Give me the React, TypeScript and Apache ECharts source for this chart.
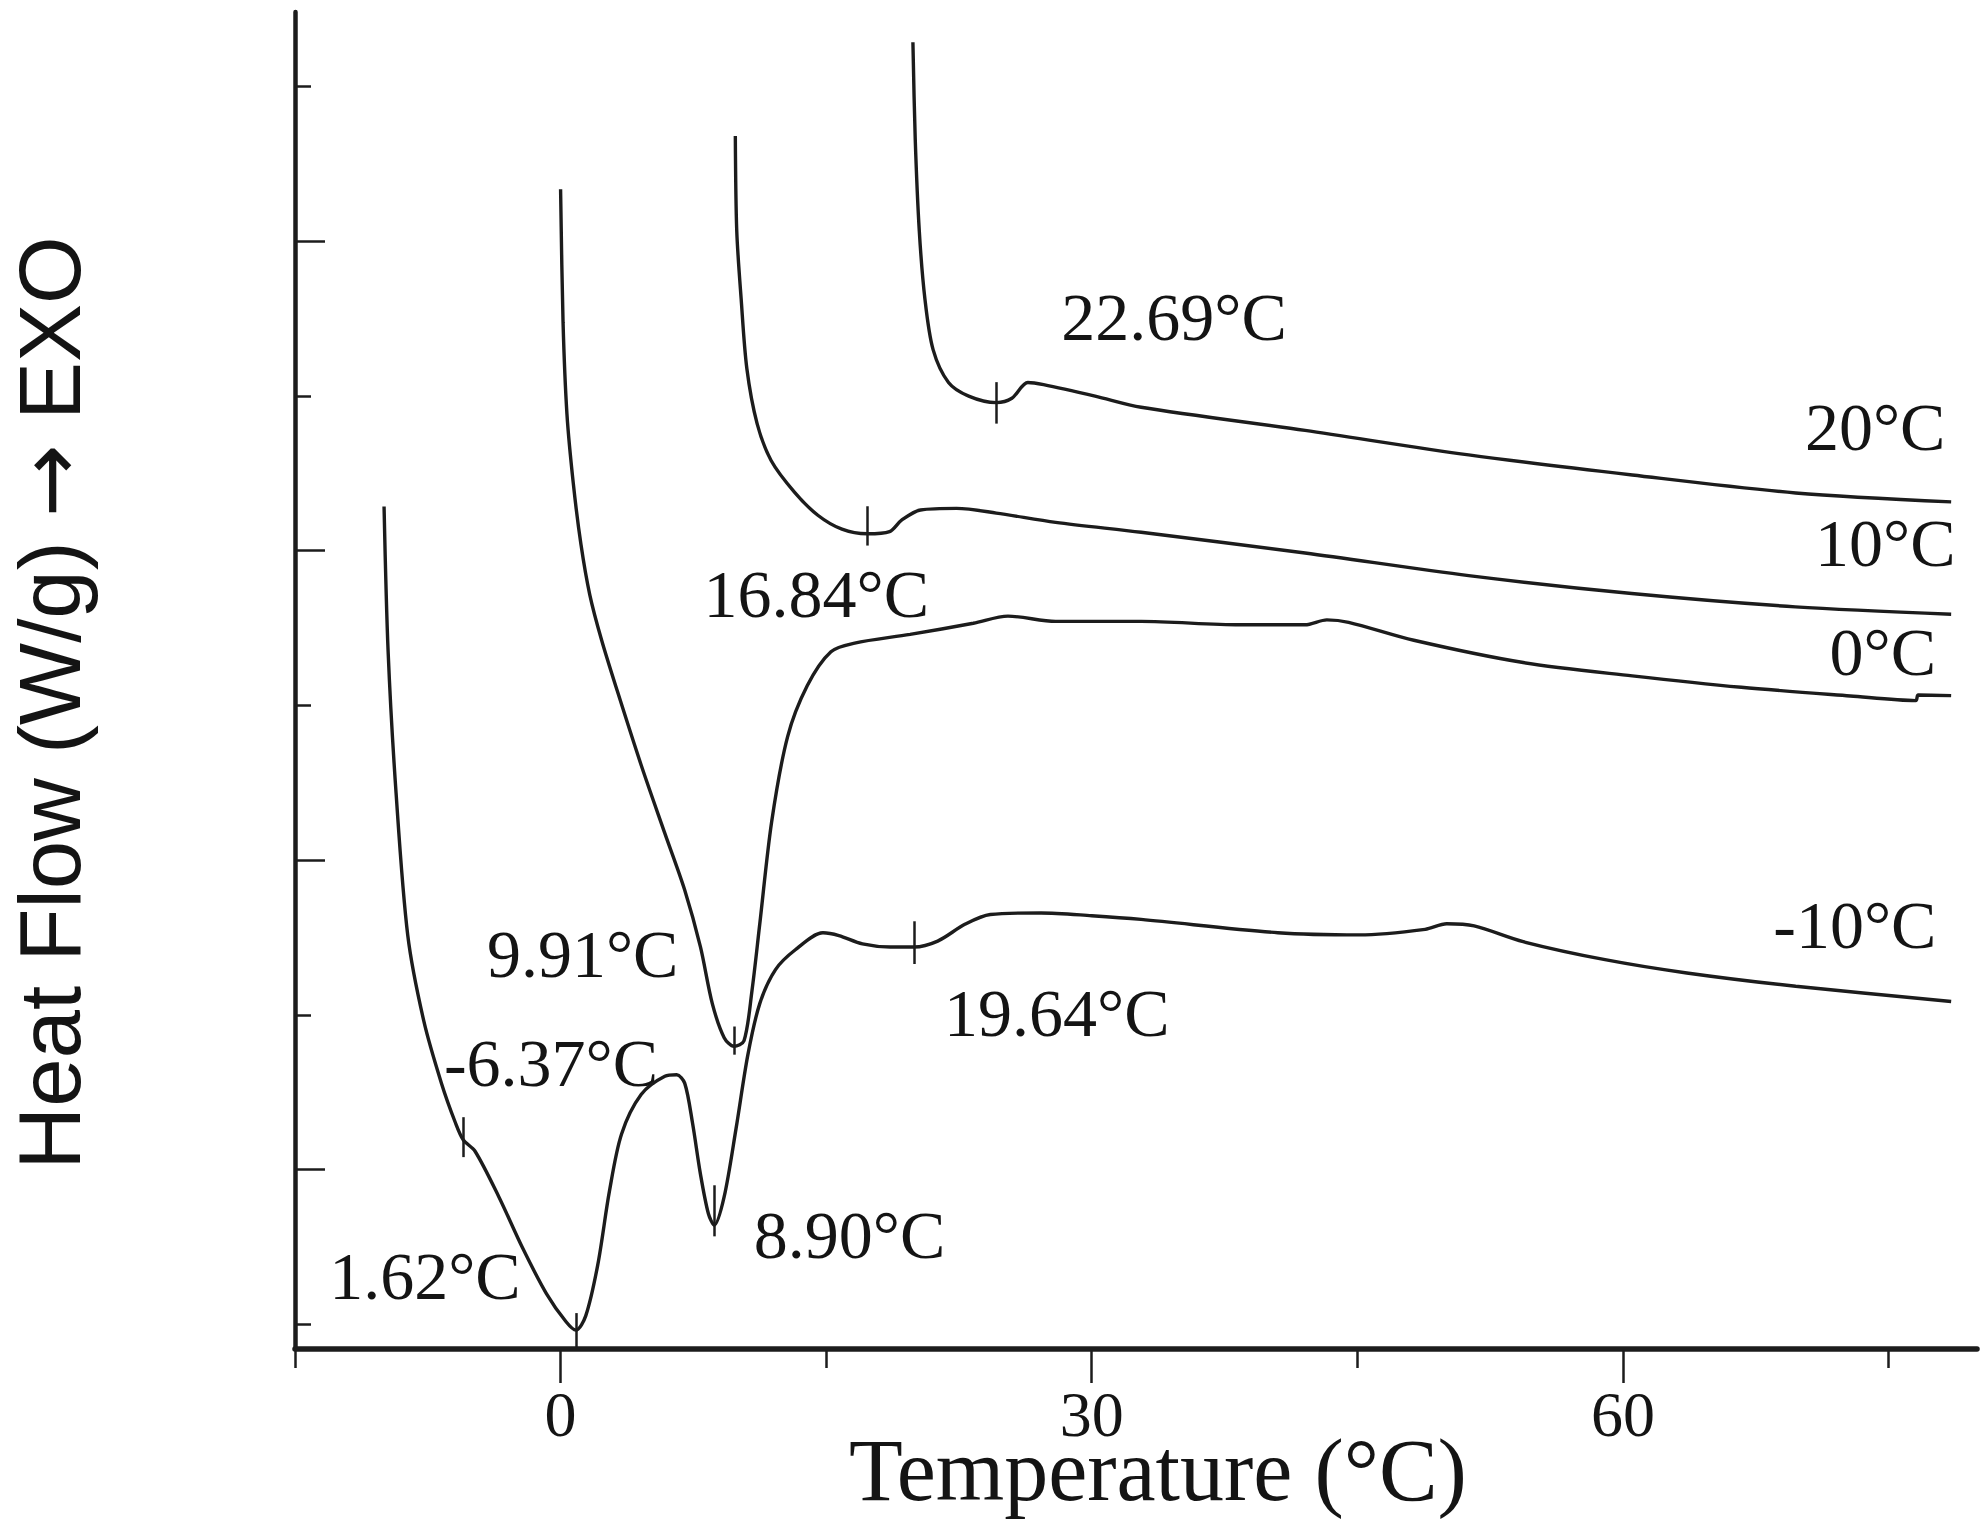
import React, { useEffect, useRef } from "react";
import * as echarts from "echarts";

const X_MIN = -15;
const X_MAX = 80;
const Y_MIN = 0.42;
const Y_MAX = 4.74;
const xTicksMajor = [0, 30, 60];
const xTicksMinor = [-15, 15, 45, 75];
const yTicksMajor = [1, 2, 3, 4];
const yTicksMinor = [0.5, 1.5, 2.5, 3.5, 4.5];

const curveMinus10: [number, number][] = [
  [-9.97, 3.142], [-9.74, 2.673], [-9.29, 2.215], [-8.63, 1.756], [-7.73, 1.481],
  [-6.73, 1.279], [-5.94, 1.151], [-5.5, 1.096], [-4.83, 1.059], [-3.49, 0.912],
  [-2.15, 0.747], [-0.81, 0.6], [0.31, 0.508], [0.87, 0.481], [1.42, 0.527],
  [2.1, 0.692], [2.76, 0.93], [3.44, 1.114], [4.55, 1.242], [5.89, 1.301],
  [6.56, 1.306], [7.01, 1.279], [7.45, 1.151], [7.9, 0.985], [8.35, 0.857],
  [8.68, 0.82], [9.24, 0.912], [9.91, 1.132], [10.58, 1.371], [11.25, 1.536],
  [12.14, 1.646], [13.26, 1.71], [14.82, 1.765], [15.72, 1.756], [17.05, 1.729],
  [18.62, 1.719], [19.96, 1.719], [21.3, 1.738], [22.86, 1.793], [24.27, 1.824],
  [27.14, 1.829], [30.0, 1.82], [32.79, 1.808], [40.51, 1.765], [45.11, 1.758],
  [48.83, 1.776], [50.05, 1.794], [51.6, 1.787], [54.37, 1.736], [58.99, 1.678],
  [63.61, 1.635], [69.76, 1.592], [78.54, 1.543],
];

const curve0: [number, number][] = [
  [0.0, 4.167], [0.14, 3.737], [0.36, 3.441], [0.72, 3.216], [1.15, 3.02],
  [1.65, 2.857], [2.32, 2.71], [3.21, 2.545], [4.55, 2.307], [5.89, 2.086],
  [7.01, 1.903], [7.9, 1.719], [8.57, 1.536], [9.24, 1.426], [9.8, 1.398],
  [10.36, 1.416], [10.8, 1.573], [11.25, 1.793], [11.92, 2.123], [12.82, 2.398],
  [13.93, 2.563], [15.27, 2.673], [16.61, 2.701], [19.74, 2.729], [23.31, 2.765],
  [25.27, 2.788], [27.96, 2.771], [32.79, 2.771], [38.35, 2.76], [42.05, 2.76],
  [43.28, 2.776], [44.51, 2.768], [48.19, 2.71], [54.37, 2.638], [60.53, 2.595],
  [66.69, 2.558], [72.84, 2.53], [76.54, 2.515], [76.68, 2.533], [78.54, 2.531],
];

const curve10: [number, number][] = [
  [9.87, 4.339], [9.95, 4.033], [10.2, 3.812], [10.52, 3.588], [11.1, 3.41],
  [11.89, 3.291], [13.22, 3.188], [14.53, 3.114], [15.89, 3.069], [17.32, 3.054],
  [18.58, 3.061], [19.26, 3.098], [20.33, 3.131], [22.37, 3.136], [24.61, 3.121],
  [27.96, 3.091], [32.79, 3.059], [42.05, 2.992], [51.29, 2.919], [60.5, 2.861],
  [69.74, 2.818], [78.54, 2.794],
];

const curve20: [number, number][] = [
  [19.9, 4.642], [20.03, 4.331], [20.26, 4.033], [20.58, 3.812], [21.04, 3.649],
  [21.91, 3.543], [23.05, 3.499], [24.61, 3.478], [25.49, 3.492], [26.39, 3.543],
  [27.28, 3.536], [30.19, 3.499], [32.79, 3.463], [42.05, 3.388], [51.29, 3.309],
  [60.53, 3.244], [69.76, 3.186], [78.54, 3.157],
];

// onset / peak marks: [temperature, yFrom, yTo]
const markTicks: [number, number, number][] = [
  [24.61, 3.41, 3.544],
  [17.32, 3.016, 3.143],
  [9.8, 1.371, 1.462],
  [19.96, 1.664, 1.802],
  [-5.5, 1.04, 1.169],
  [0.87, 0.42, 0.536],
  [8.68, 0.784, 0.949],
];

const annotationTexts = [
  "22.69°C", "20°C", "10°C", "0°C", "-10°C", "16.84°C",
  "9.91°C", "-6.37°C", "8.90°C", "1.62°C", "19.64°C",
];
const annotationX = [34.65, 74.25, 74.82, 74.68, 73.1, 14.44, 1.25, -0.54, 16.32, -7.66, 28.03];
const annotationY = [3.755, 3.4, 3.024, 2.673, 1.79, 2.861, 1.696, 1.343, 0.788, 0.657, 1.506];

const INK = "#1c1c1c";
const TEXT_INK = "#141414";
const SERIF = "'Liberation Serif', 'Times New Roman', serif";
const SANS = "'Liberation Sans', Arial, sans-serif";

export default function App() {
  const ref = useRef<HTMLDivElement>(null);

  useEffect(() => {
    document.body.style.margin = "0";
    document.body.style.overflow = "hidden";
    if (!ref.current) return;
    const chart = echarts.init(ref.current, undefined, { renderer: "svg" });

    const curveSeries = [
      { name: "-10°C", data: curveMinus10 },
      { name: "0°C", data: curve0 },
      { name: "10°C", data: curve10 },
      { name: "20°C", data: curve20 },
    ].map((c) => ({
      type: "line",
      name: c.name,
      data: c.data,
      xAxisIndex: 0,
      yAxisIndex: 0,
      showSymbol: false,
      smooth: 0.3,
      lineStyle: { width: 3.4, color: INK },
      silent: true,
    }));

    const option: any = {
      animation: false,
      backgroundColor: "#ffffff",
      grid: {
        left: 295,
        right: 7,
        top: 12,
        bottom: 179,
        containLabel: false,
        outerBoundsMode: "none",
      },
      xAxis: [
        {
          type: "value",
          min: X_MIN,
          max: X_MAX,
          position: "bottom",
          name: "Temperature (°C)",
          nameLocation: "middle",
          nameGap: 77,
          nameMoveOverlap: false,
          nameTextStyle: {
            fontFamily: SERIF,
            fontSize: 88,
            color: TEXT_INK,
            padding: [0, 0, 0, 44],
          },
          axisLine: { show: true, onZero: false, lineStyle: { color: INK, width: 5.5 } },
          axisTick: {
            show: true,
            inside: false,
            length: 34,
            customValues: xTicksMajor,
            lineStyle: { color: INK, width: 2.5 },
          },
          axisLabel: {
            show: true,
            customValues: xTicksMajor,
            margin: 33,
            fontFamily: SERIF,
            fontSize: 64,
            color: TEXT_INK,
          },
          splitLine: { show: false },
        },
        {
          type: "value",
          min: X_MIN,
          max: X_MAX,
          position: "bottom",
          axisLine: { show: false, onZero: false },
          axisTick: {
            show: true,
            inside: false,
            length: 19,
            customValues: xTicksMinor,
            lineStyle: { color: INK, width: 2.5 },
          },
          axisLabel: { show: false },
          splitLine: { show: false },
        },
      ],
      yAxis: [
        {
          type: "value",
          min: Y_MIN,
          max: Y_MAX,
          position: "left",
          name: "Heat Flow (W/g) {arr|→} EXO",
          nameLocation: "middle",
          nameGap: 202,
          nameMoveOverlap: false,
          nameTextStyle: {
            fontFamily: SANS,
            fontSize: 87,
            color: TEXT_INK,
            padding: [0, 45, 0, 0],
            rich: {
              arr: {
                fontFamily: "'DejaVu Sans', sans-serif",
                fontSize: 87,
                color: TEXT_INK,
              },
            },
          },
          axisLine: { show: true, onZero: false, lineStyle: { color: INK, width: 4.5 } },
          axisTick: {
            show: true,
            inside: true,
            length: 30,
            customValues: yTicksMajor,
            lineStyle: { color: INK, width: 2.5 },
          },
          axisLabel: { show: false },
          splitLine: { show: false },
        },
        {
          type: "value",
          min: Y_MIN,
          max: Y_MAX,
          position: "left",
          axisLine: { show: false, onZero: false },
          axisTick: {
            show: true,
            inside: true,
            length: 16,
            customValues: yTicksMinor,
            lineStyle: { color: INK, width: 2.5 },
          },
          axisLabel: { show: false },
          splitLine: { show: false },
        },
      ],
      series: [
        ...curveSeries,
        {
          type: "line",
          name: "marks",
          data: [],
          xAxisIndex: 0,
          yAxisIndex: 0,
          silent: true,
          markLine: {
            silent: true,
            symbol: ["none", "none"],
            label: { show: false },
            lineStyle: { type: "solid", color: INK, width: 2.5 },
            data: markTicks.map(([x, y1, y2]) => [
              { coord: [x, y1] },
              { coord: [x, y2] },
            ]),
          },
        },
        {
          type: "scatter",
          name: "annotations",
          xAxisIndex: 0,
          yAxisIndex: 0,
          symbolSize: 0,
          silent: true,
          itemStyle: { opacity: 1 },
          data: annotationTexts.map((t, i) => ({
            name: t,
            value: [annotationX[i], annotationY[i]],
          })),
          label: {
            show: true,
            position: "inside",
            formatter: (p: any) => p.name,
            fontFamily: SERIF,
            fontSize: 68,
            color: TEXT_INK,
            opacity: 1,
            textBorderWidth: 0,
            align: "center",
            verticalAlign: "middle",
          },
        },
      ],
    };

    chart.setOption(option);
    return () => {
      chart.dispose();
    };
  }, []);

  return (
    <div
      ref={ref}
      style={{ position: "absolute", left: 0, top: 0, width: 1984, height: 1528 }}
    />
  );
}
